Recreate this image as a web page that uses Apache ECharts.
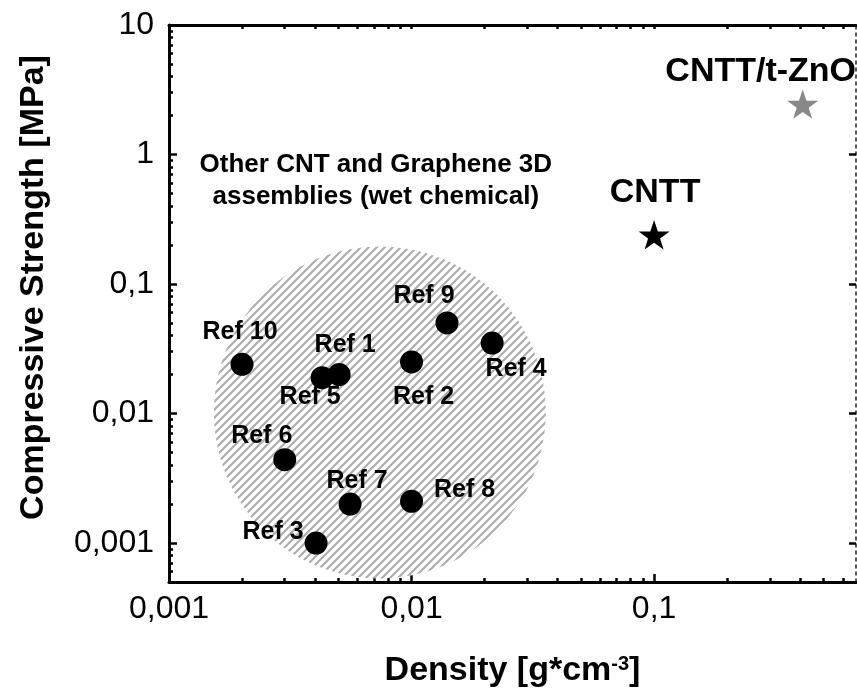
<!DOCTYPE html>
<html>
<head>
<meta charset="utf-8">
<script src="https://cdn.jsdelivr.net/npm/echarts@6/dist/echarts.min.js"></script>
<style>
  html, body { margin: 0; padding: 0; background: #fff; }
  #chart { width: 857px; height: 698px; }
</style>
</head>
<body>
<div id="chart"></div>
<script>
// literature references (wet chemical CNT / graphene assemblies)
const refNames = ['Ref 1', 'Ref 2', 'Ref 3', 'Ref 4', 'Ref 5', 'Ref 6', 'Ref 7', 'Ref 8', 'Ref 9', 'Ref 10'];
const refDensity = [0.00503, 0.0100, 0.00404, 0.0215, 0.00428, 0.0030, 0.00558, 0.0100, 0.0140, 0.0020];
const refStrength = [0.020, 0.025, 0.0010, 0.035, 0.0189, 0.0044, 0.0020, 0.0021, 0.050, 0.024];

// this work
const cnttNames = ['CNTT', 'CNTT/t-ZnO'];
const cnttDensity = [0.1, 0.41];
const cnttStrength = [0.24, 2.45];

// shaded region of other assemblies (centre)
const regionName = 'Other CNT and Graphene 3D\nassemblies (wet chemical)';
const regionDensity = [0.0074];
const regionStrength = [0.0102];

// axis ticks
const xMajor = [0.001, 0.01, 0.1];
const xMinor = [0.002, 0.003, 0.004, 0.005, 0.006, 0.007, 0.008, 0.009,
  0.02, 0.03, 0.04, 0.05, 0.06, 0.07, 0.08, 0.09, 0.2, 0.3, 0.4, 0.5, 0.6];
const yMajor = [0.001, 0.01, 0.1, 1, 10];
const yMinor = [0.0005, 0.0006, 0.0007, 0.0008, 0.0009,
  0.002, 0.003, 0.004, 0.005, 0.006, 0.007, 0.008, 0.009,
  0.02, 0.03, 0.04, 0.05, 0.06, 0.07, 0.08, 0.09,
  0.2, 0.3, 0.4, 0.5, 0.6, 0.7, 0.8, 0.9,
  2, 3, 4, 5, 6, 7, 8, 9];

const FONT = 'Liberation Sans, Arial, sans-serif';
const STAR = 'path://M50,0 L61.8,35.1 L98.1,35.1 L68.7,56.8 L79.4,91 L50,70 L20.6,91 L31.3,56.8 L1.9,35.1 L38.2,35.1 Z';

// label offsets relative to dot centre
const refLabelOffset = {
  'Ref 1': [6, -29], 'Ref 2': [12, 35], 'Ref 3': [-43, -11], 'Ref 4': [24, 26],
  'Ref 5': [-12, 19], 'Ref 6': [-23, -24], 'Ref 7': [7, -23], 'Ref 8': [53, -11],
  'Ref 9': [-23, -27], 'Ref 10': [-2, -32]
};
const cnttLabelOffset = { 'CNTT': [1, -42], 'CNTT/t-ZnO': [-42, -32] };
const cnttColor = { 'CNTT': '#000', 'CNTT/t-ZnO': '#888' };
const REGION_R = 166;

// hatch pattern
function hatch() {
  const c = document.createElement('canvas');
  c.width = 8; c.height = 8;
  const ctx = c.getContext('2d');
  ctx.fillStyle = '#fff';
  ctx.fillRect(0, 0, 8, 8);
  ctx.strokeStyle = '#ababab';
  ctx.lineWidth = 2.1;
  ctx.beginPath();
  ctx.moveTo(-2, 10); ctx.lineTo(10, -2);
  ctx.moveTo(-6, 6); ctx.lineTo(6, -6);
  ctx.moveTo(2, 14); ctx.lineTo(14, 2);
  ctx.stroke();
  return c;
}
const hatchPattern = hatch();

const fmt = v => String(v).replace('.', ',');

let chart = echarts.init(document.getElementById('chart'));

const xBase = { type: 'log', logBase: 10, min: 0.001, max: 0.68, gridIndex: 0 };
const yBase = { type: 'log', logBase: 10, min: 0.0005, max: 10, gridIndex: 0 };
const noLine = { show: false };

let option = {
  animation: false,
  grid: { left: 169, right: 1, top: 25, bottom: 116 },
  xAxis: [
    Object.assign({}, xBase, {
      position: 'bottom',
      name: 'Density [g*cm{sup|-3}]',
      nameLocation: 'middle',
      nameGap: 72,
      nameTextStyle: {
        fontFamily: FONT, fontSize: 34, fontWeight: 'bold', color: '#000',
        rich: { sup: { fontFamily: FONT, fontSize: 20, fontWeight: 'bold', color: '#000', verticalAlign: 'top', padding: [0, 0, 14, 0] } }
      },
      axisLine: { lineStyle: { color: '#000', width: 3 } },
      axisTick: { inside: true, length: 8, lineStyle: { width: 2.5, color: '#000' }, customValues: xMajor },
      axisLabel: { customValues: xMajor, formatter: fmt, fontFamily: FONT, fontSize: 32, color: '#000', margin: 11 },
      splitLine: noLine
    }),
    Object.assign({}, xBase, {
      position: 'bottom',
      axisLine: noLine,
      axisTick: { inside: true, length: 4, lineStyle: { width: 2.5, color: '#000' }, customValues: xMinor },
      axisLabel: { show: false },
      splitLine: noLine
    }),
    Object.assign({}, xBase, {
      position: 'top',
      axisLine: { lineStyle: { color: '#000', width: 3 } },
      axisTick: { inside: true, length: 4, lineStyle: { width: 2.5, color: '#000' }, customValues: xMajor.concat(xMinor) },
      axisLabel: { show: false },
      splitLine: noLine
    })
  ],
  yAxis: [
    Object.assign({}, yBase, {
      position: 'left',
      name: 'Compressive Strength [MPa]',
      nameLocation: 'middle',
      nameGap: 118,
      nameTextStyle: { fontFamily: FONT, fontSize: 34, fontWeight: 'bold', color: '#000', padding: [0, 0, 0, 32] },
      axisLine: { lineStyle: { color: '#000', width: 3 } },
      axisTick: { inside: true, length: 8, lineStyle: { width: 2.5, color: '#000' }, customValues: yMajor },
      axisLabel: { customValues: yMajor, formatter: fmt, fontFamily: FONT, fontSize: 32, color: '#000', margin: 15 },
      splitLine: noLine
    }),
    Object.assign({}, yBase, {
      position: 'left',
      axisLine: noLine,
      axisTick: { inside: true, length: 4, lineStyle: { width: 2.5, color: '#000' }, customValues: yMinor },
      axisLabel: { show: false },
      splitLine: noLine
    }),
    Object.assign({}, yBase, {
      position: 'right',
      axisLine: { lineStyle: { color: '#222', width: 1.5, type: [3, 4] } },
      axisTick: { inside: true, length: 7, lineStyle: { width: 2.5, color: '#000' }, customValues: yMajor },
      axisLabel: { show: false },
      splitLine: noLine
    })
  ],
  series: [
    {
      // hatched disc + its caption
      type: 'custom',
      silent: true,
      z: 1,
      renderItem: function (params, api) {
        const p = api.coord([api.value(0), api.value(1)]);
        return {
          type: 'group',
          children: [
            {
              type: 'circle',
              shape: { cx: p[0], cy: p[1], r: REGION_R },
              style: { fill: { image: hatchPattern, repeat: 'repeat' } }
            },
            {
              type: 'text',
              style: {
                text: regionName, x: p[0] - 4, y: p[1] - REGION_R - 34,
                align: 'center', verticalAlign: 'bottom',
                fontFamily: FONT, fontSize: 26, fontWeight: 'bold', fill: '#000', lineHeight: 32
              }
            }
          ]
        };
      },
      data: regionDensity.map((d, i) => [d, regionStrength[i]])
    },
    {
      type: 'scatter',
      z: 3,
      symbol: 'circle',
      symbolSize: 23,
      itemStyle: { color: '#000', opacity: 1 },
      data: refNames.map((n, i) => ({
        name: n,
        value: [refDensity[i], refStrength[i]],
        label: { offset: refLabelOffset[n] }
      })),
      label: {
        show: true, position: 'inside', formatter: p => p.name,
        fontFamily: FONT, fontSize: 25, fontWeight: 'bold', color: '#000'
      }
    },
    {
      type: 'scatter',
      z: 3,
      symbol: STAR,
      symbolSize: 31,
      symbolKeepAspect: true,
      data: cnttNames.map((n, i) => ({
        name: n,
        value: [cnttDensity[i], cnttStrength[i]],
        itemStyle: { color: cnttColor[n], opacity: 1 },
        label: { offset: cnttLabelOffset[n] }
      })),
      label: {
        show: true, position: 'inside', formatter: p => p.name,
        fontFamily: FONT, fontSize: 34, fontWeight: 'bold', color: '#000'
      }
    }
  ]
};

option && chart.setOption(option);
</script>
</body>
</html>
